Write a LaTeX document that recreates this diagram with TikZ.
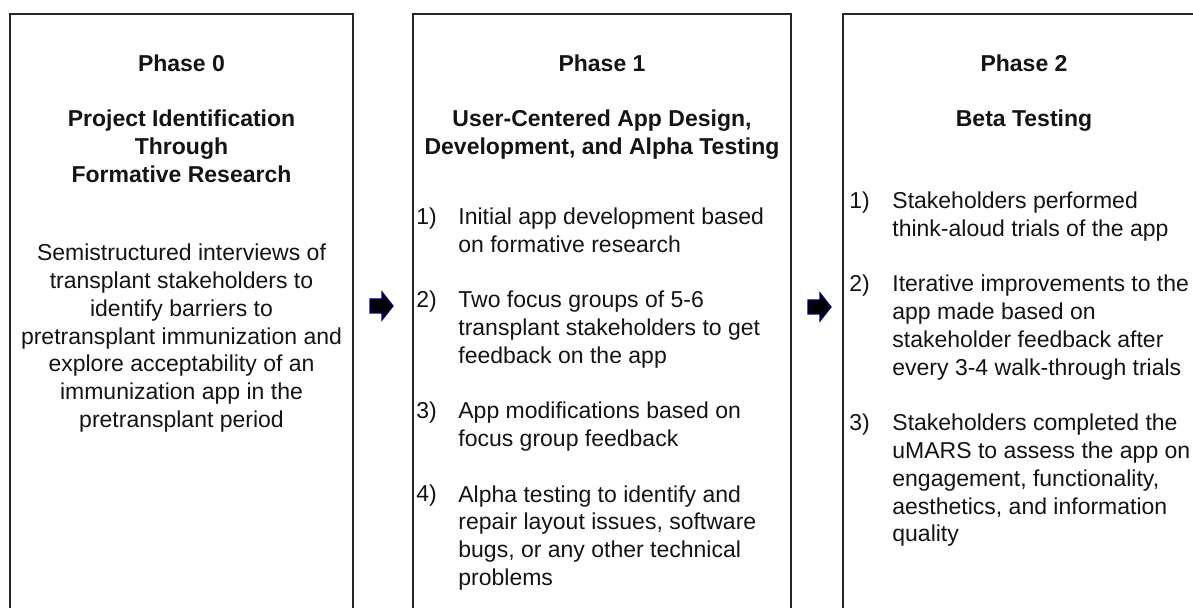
\documentclass[tikz,border=0pt]{standalone}
\usepackage{fontspec}
\setmainfont{Liberation Sans}
\newcommand{\txtfont}{\fontsize{11.5pt}{13.85pt}\selectfont}
\tikzset{
  box/.style={draw=black!85, line width=1pt, minimum height=313pt, inner sep=0pt},
  ttl/.style={font=\bfseries\txtfont, align=center, anchor=base, inner sep=0pt, text=black!92},
  body/.style={font=\txtfont, align=center, anchor=base, inner sep=0pt, text=black!92},
  num/.style={font=\txtfont, anchor=base west, inner sep=0pt, text=black!92},
  item/.style={font=\txtfont, align=left, anchor=base west, inner sep=0pt, text=black!92},
  blockarrow/.style={fill=black, draw=blue!45!black, line width=0.6pt, line join=miter}
}
\begin{document}
\begin{tikzpicture}[x=0.5pt, y=-0.5pt]
\useasboundingbox (0,0) rectangle (1193,608);
\clip (0,0) rectangle (1193,608);
\fill[white] (0,0) rectangle (1193,608);

% boxes
\node[box, minimum width=171.5pt] (b0) at (181.5,327) {};
\node[box, minimum width=189pt] (b1) at (602,327) {};
\node[box, minimum width=181pt] (b2) at (1024,327) {};

% Phase 0 (multi-line nodes are placed at the baseline of their last line)
\node[ttl] (p0) at (181.5,72) {Phase 0};
\node[ttl] (t0) at (181.5,182.4) {Project Identification\\Through\\Formative Research};
\node[body] (d0) at (181.5,427.2) {Semistructured interviews of\\transplant stakeholders to\\identify barriers to\\pretransplant immunization and\\explore acceptability of an\\immunization app in the\\pretransplant period};

% Phase 1
\node[ttl] (p1) at (602,72) {Phase 1};
\node[ttl] (t1) at (602,154.7) {User-Centered App Design,\\Development, and Alpha Testing};
\node[num] (n11) at (416,225) {1)};
\node[item] (i11) at (458,252.7) {Initial app development based\\on formative research};
\node[num] (n12) at (416,308) {2)};
\node[item] (i12) at (458,363.4) {Two focus groups of 5-6\\transplant stakeholders to get\\feedback on the app};
\node[num] (n13) at (416,419) {3)};
\node[item] (i13) at (458,446.7) {App modifications based on\\focus group feedback};
\node[num] (n14) at (416,502) {4)};
\node[item] (i14) at (458,585.1) {Alpha testing to identify and\\repair layout issues, software\\bugs, or any other technical\\problems};

% Phase 2
\node[ttl] (p2) at (1024,72) {Phase 2};
\node[ttl] (t2) at (1024,127) {Beta Testing};
\node[num] (n21) at (849,209) {1)};
\node[item] (i21) at (892,236.7) {Stakeholders performed\\think-aloud trials of the app};
\node[num] (n22) at (849,292) {2)};
\node[item] (i22) at (892,375.1) {Iterative improvements to the\\app made based on\\stakeholder feedback after\\every 3-4 walk-through trials};
\node[num] (n23) at (849,431) {3)};
\node[item] (i23) at (892,541.8) {Stakeholders completed the\\uMARS to assess the app on\\engagement, functionality,\\aesthetics, and information\\quality};

% arrows
\coordinate (a1) at (370,306);
\coordinate (a2) at (808,307);
\foreach \c in {a1,a2}{
  \draw[blockarrow] (\c) ++(0,-7) -- ++(12,0) -- ++(0,-7) -- ++(11,14) -- ++(-11,14) -- ++(0,-7) -- ++(-12,0) -- cycle;
}
\end{tikzpicture}
\end{document}
